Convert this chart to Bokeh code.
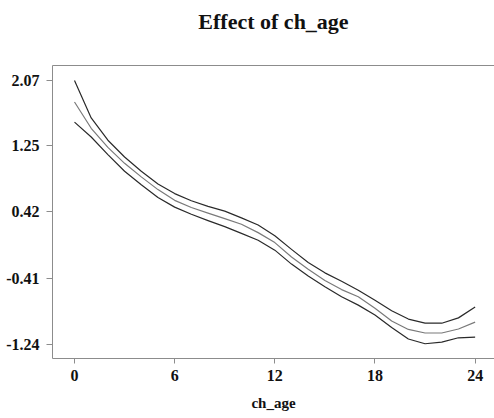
from bokeh.plotting import figure
from bokeh.embed import file_html
from bokeh.resources import INLINE
from bokeh.models import FixedTicker, LinearAxis, Range1d

ages = list(range(0, 25))
upper = [2.07, 1.60, 1.32, 1.11, 0.93, 0.77, 0.65, 0.56, 0.49, 0.43, 0.345, 0.255, 0.12,
         -0.05, -0.215, -0.345, -0.45, -0.563, -0.69, -0.82, -0.925, -0.975, -0.977, -0.91, -0.775]
effect = [1.80, 1.47, 1.23, 1.03, 0.86, 0.70, 0.565, 0.475, 0.405, 0.335, 0.265, 0.16, 0.035,
          -0.145, -0.30, -0.44, -0.555, -0.645, -0.79, -0.95, -1.055, -1.10, -1.10, -1.05, -0.963]
lower = [1.547, 1.36, 1.14, 0.93, 0.76, 0.60, 0.48, 0.39, 0.31, 0.235, 0.15, 0.065, -0.06,
         -0.235, -0.385, -0.52, -0.645, -0.75, -0.875, -1.03, -1.175, -1.235, -1.215, -1.16, -1.152]

xticks = [0, 6, 12, 18, 24]
yticks = [-1.24, -0.41, 0.42, 1.25, 2.07]
ytick_labels = ["-1.24", "-0.41", "0.42", "1.25", "2.07"]
title_text = "Effect of ch_age"

FONT = "Liberation Serif"
AXIS_COLOR = "#8c8c8c"

p = figure(width=494, height=418, output_backend="svg", toolbar_location=None,
           x_range=Range1d(-1.318, 25.16), y_range=Range1d(-1.42, 2.258),
           min_border_left=52, min_border_right=0, min_border_top=65, min_border_bottom=60)
p.outline_line_color = None
p.grid.grid_line_color = None
p.background_fill_color = "white"
p.border_fill_color = "white"

p.line(ages, upper, line_color="#2a2a2a", line_width=1.2, line_join="round")
p.line(ages, effect, line_color="#7a7a7a", line_width=1.2, line_join="round")
p.line(ages, lower, line_color="#2a2a2a", line_width=1.2, line_join="round")

for ax in (p.xaxis[0], p.yaxis[0]):
    ax.axis_line_color = AXIS_COLOR
    ax.major_tick_line_color = AXIS_COLOR
    ax.major_tick_in = 0
    ax.minor_tick_line_color = None
    ax.major_label_text_font = FONT
    ax.major_label_text_font_style = "bold"
    ax.major_label_text_font_size = "16px"
    ax.major_label_text_color = "#111111"

p.xaxis[0].ticker = FixedTicker(ticks=xticks)
p.xaxis[0].major_tick_out = 5
p.xaxis[0].axis_label = "ch_age"
p.xaxis[0].axis_label_text_font = FONT
p.xaxis[0].axis_label_text_font_style = "bold"
p.xaxis[0].axis_label_text_font_size = "15px"
p.xaxis[0].axis_label_text_color = "#111111"
p.xaxis[0].major_label_standoff = 6
p.xaxis[0].axis_label_standoff = 11

p.yaxis[0].ticker = FixedTicker(ticks=yticks)
p.yaxis[0].major_tick_out = 6
p.yaxis[0].major_label_overrides = {t: l for t, l in zip(yticks, ytick_labels)}
p.yaxis[0].major_label_standoff = 7

# top frame line, carrying the chart title as its label
top = LinearAxis(axis_line_color=AXIS_COLOR, major_tick_line_color=None,
                 minor_tick_line_color=None, major_label_text_font_size="0px",
                 major_tick_out=0, major_label_standoff=0,
                 axis_label=title_text, axis_label_standoff=32,
                 axis_label_text_font=FONT, axis_label_text_font_style="bold",
                 axis_label_text_font_size="22px", axis_label_text_color="#111111")
top.ticker = FixedTicker(ticks=[])
p.add_layout(top, "above")

open("out.html", "w").write(file_html(p, INLINE))
